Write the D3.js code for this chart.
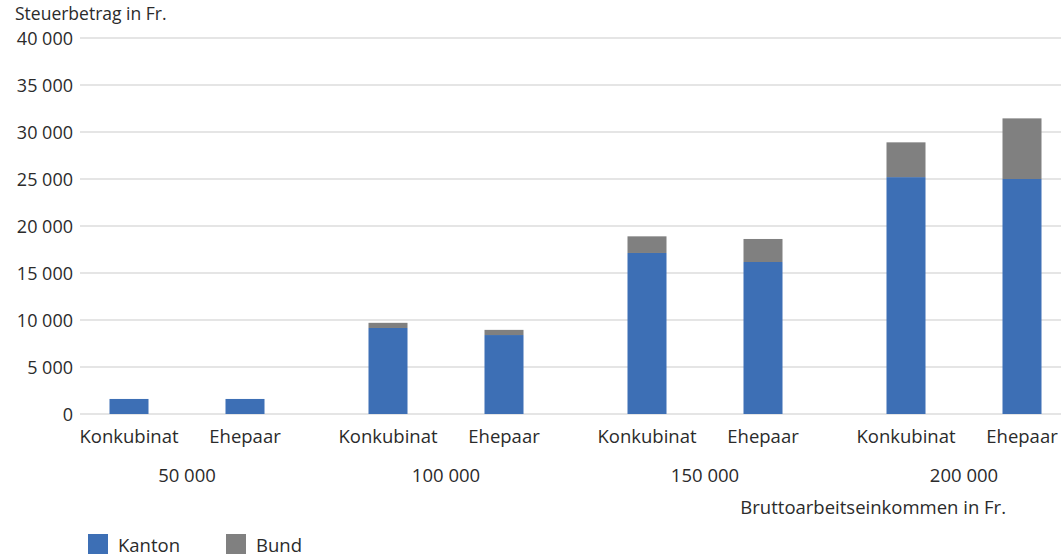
<!DOCTYPE html>
<html><head><meta charset="utf-8">
<script src="https://cdn.jsdelivr.net/npm/d3@7"></script>
<style>
html,body{margin:0;padding:0;background:#fff;}
text{font-family:"Open Sans","Lato",sans-serif;fill:#2b2b2b;}
</style></head>
<body><svg id="c" width="1061" height="556"></svg>
<script>
const groups = ["50 000", "100 000", "150 000", "200 000"];
const types = ["Konkubinat", "Ehepaar"];
// values per group: [Konkubinat, Ehepaar]
const kanton = [[1600, 1600], [9150, 8400], [17130, 16170], [25200, 25000]];
const bund = [[0, 0], [550, 550], [1770, 2450], [3700, 6450]];
const yTicks = [0, 5000, 10000, 15000, 20000, 25000, 30000, 35000, 40000];
const seriesNames = ["Kanton", "Bund"];
const colors = ["#3d6fb5", "#808080"];

const svg = d3.select("#c");
const fmt = v => d3.format(",")(v).replace(/,/g, " ");
const y = d3.scaleLinear().domain([0, 40000]).range([414, 38]);
const x0 = d3.scaleBand().domain(groups).range([57.5, 1093.5]);
const x1 = d3.scalePoint().domain(types).range([13.5, 245.5]).padding(0.5);
const barW = 39;
const fs = 18.5;

// grid
svg.append("g").selectAll("line").data(yTicks).join("line")
  .attr("x1", 80).attr("x2", 1061)
  .attr("y1", d => y(d)).attr("y2", d => y(d))
  .attr("stroke", "#dcdcdc").attr("stroke-width", 1.5);

// y labels
svg.append("g").selectAll("text").data(yTicks).join("text")
  .attr("x", 73).attr("y", d => y(d)).attr("dy", "0.37em")
  .attr("text-anchor", "end").attr("font-size", 18).text(d => fmt(d));

svg.append("text").attr("x", 15).attr("y", 19.5).attr("font-size", 17.5).text("Steuerbetrag in Fr.");

// bars
const items = [];
groups.forEach((g, gi) => types.forEach((t, ti) => {
  const k = kanton[gi][ti], b = bund[gi][ti];
  items.push({g, t, y0: 0, y1: k, s: 0});
  if (b > 0) items.push({g, t, y0: k, y1: k + b, s: 1});
}));
svg.append("g").selectAll("rect").data(items).join("rect")
  .attr("x", d => x0(d.g) + x1(d.t) - barW / 2)
  .attr("width", barW)
  .attr("y", d => y(d.y1))
  .attr("height", d => y(d.y0) - y(d.y1))
  .attr("fill", d => colors[d.s]);

// category labels
groups.forEach(g => types.forEach(t => {
  svg.append("text").attr("x", x0(g) + x1(t)).attr("y", 437).attr("dy", "0.35em")
    .attr("text-anchor", "middle").attr("font-size", fs).text(t);
}));
svg.append("g").selectAll("text").data(groups).join("text")
  .attr("x", d => x0(d) + x0.bandwidth() / 2).attr("y", 476).attr("dy", "0.35em")
  .attr("text-anchor", "middle").attr("font-size", fs).text(d => d);

svg.append("text").attr("x", 1006).attr("y", 508).attr("dy", "0.35em")
  .attr("text-anchor", "end").attr("font-size", fs).text("Bruttoarbeitseinkommen in Fr.");

// legend
const lx = [88, 226];
seriesNames.forEach((s, i) => {
  svg.append("rect").attr("x", lx[i]).attr("y", 534).attr("width", 20).attr("height", 20).attr("fill", colors[i]);
  svg.append("text").attr("x", lx[i] + 30).attr("y", 546).attr("dy", "0.35em").attr("font-size", fs).text(s);
});
</script></body></html>
